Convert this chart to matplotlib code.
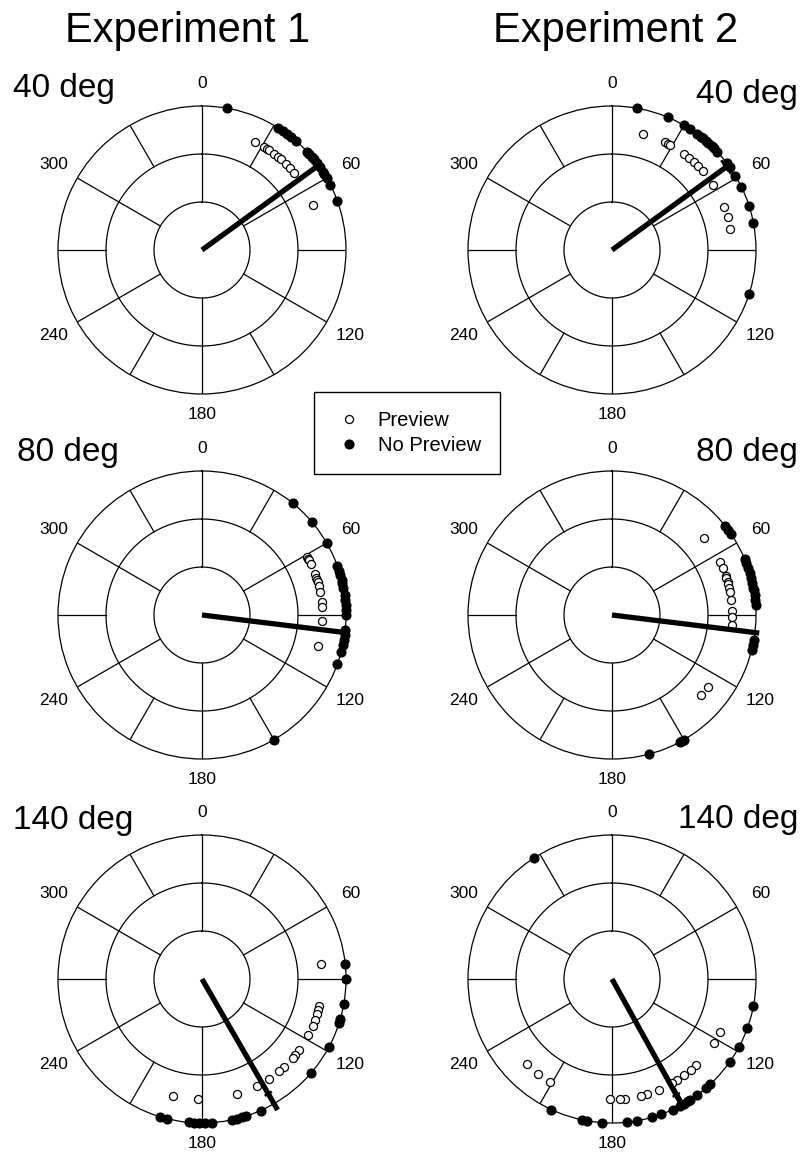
import numpy as np
import matplotlib
matplotlib.use("Agg")
import matplotlib.pyplot as plt
from matplotlib.lines import Line2D

plt.rcParams['font.family'] = ['Liberation Sans', 'DejaVu Sans']

# Response directions (deg, clockwise from 0 at top) for each condition
exp1_40_nopreview = [10, 32, 34, 36, 38, 41, 47, 48, 50, 51, 53, 55, 57, 58, 60, 63, 70]
exp1_40_preview = [26, 31, 33, 34, 37, 39, 41, 44, 47, 50, 68]
exp2_40_nopreview = [10, 23, 30, 33, 36, 38, 39, 41, 42, 44, 45, 47, 53, 55, 59, 64, 72, 79, 108]
exp2_40_preview = [15, 26, 28, 29, 37, 40, 43, 46, 49, 57, 69, 74, 80]

exp1_80_nopreview = [39, 50, 60, 70, 72, 74, 76, 77, 79, 82, 84, 86, 88, 90, 96, 98, 100, 102, 105, 110, 150]
exp1_80_preview = [61, 62, 63, 65, 70, 72, 73, 74, 76, 79, 84, 86, 93, 105]
exp2_80_nopreview = [52, 54, 56, 67, 69, 71, 73, 75, 77, 79, 80, 82, 84, 86, 100, 102, 104, 150, 151, 152, 165]
exp2_80_preview = [50, 64, 67, 71, 72, 74, 75, 77, 79, 83, 88, 91, 95, 127, 132]

exp1_140_nopreview = [84, 90, 100, 106, 108, 118, 131, 156, 162, 164, 166, 168, 176, 179, 181, 183, 185, 194, 197]
exp1_140_preview = [83, 103, 105, 107, 110, 113, 118, 126, 129, 131, 137, 140, 146, 153, 163, 182, 194]
exp2_140_nopreview = [327, 101, 110, 118, 125, 137, 139, 144, 147, 148, 150, 152, 155, 160, 164, 170, 174, 184, 190, 192, 205]
exp2_140_preview = [116, 122, 136, 139, 143, 147, 150, 157, 163, 166, 174, 176, 181, 211, 218, 225]

# Mean direction (deg) and drawn vector length per panel, rows = rotation, cols = experiment
mean_dir = [[54, 54], [97, 97], [150, 151]]
mean_len = [[1.02, 1.02], [1.02, 1.03], [1.05, 1.0]]
mean_tick = [[0.98, 0.98], [1.0, 1.0], [0.92, 0.92]]
tick_half = [[0.05, 0.05], [0.0, 0.0], [0.02, 0.02]]

row_labels = ["40 deg", "80 deg", "140 deg"]
col_titles = ["Experiment 1", "Experiment 2"]
angle_ticks = [0, 60, 120, 180, 240, 300]

panels = [
    [(exp1_40_nopreview, exp1_40_preview), (exp2_40_nopreview, exp2_40_preview)],
    [(exp1_80_nopreview, exp1_80_preview), (exp2_80_nopreview, exp2_80_preview)],
    [(exp1_140_nopreview, exp1_140_preview), (exp2_140_nopreview, exp2_140_preview)],
]

W, H = 803, 1153
fig = plt.figure(figsize=(W / 100, H / 100), dpi=100)

col_cx = [202, 612]
row_cy = [250, 615, 979]
R = 144
R_NOPRE = 1.0
R_PRE = 0.835
GRID_LW = 0.9


def draw_grid(ax):
    th = np.linspace(0, 2 * np.pi, 400)
    for r in (1 / 3, 2 / 3):
        ax.plot(th, np.full_like(th, r), color='black', lw=GRID_LW, zorder=1)
    for a in range(0, 360, 30):
        r0 = 1 / 3 if a % 60 == 0 else 2 / 3
        t = np.deg2rad(a)
        ax.plot([t, t], [r0, 1], color='black', lw=GRID_LW, zorder=1)
    for a in angle_ticks:
        rl = 1.155 if a in (0, 180) else 1.19
        if a == 180:
            rl = 1.14
        ax.text(np.deg2rad(a), rl, str(a), ha='center', va='center', fontsize=12.5)


for i in range(3):
    for j in range(2):
        cx, cy = col_cx[j], row_cy[i]
        ax = fig.add_axes([(cx - R) / W, 1 - (cy + R) / H, 2 * R / W, 2 * R / H],
                          projection='polar')
        ax.set_theta_zero_location('N')
        ax.set_theta_direction(-1)
        ax.set_ylim(0, 1)
        ax.grid(False)
        ax.set_xticks([])
        ax.set_yticks([])
        ax.spines['polar'].set_linewidth(GRID_LW)
        draw_grid(ax)

        nopre, pre = panels[i][j]
        ax.plot(np.deg2rad(pre), np.full(len(pre), R_PRE), linestyle='none', marker='o',
                markersize=5.8, markerfacecolor='white', markeredgecolor='black',
                markeredgewidth=0.9, clip_on=False, zorder=3)
        ax.plot(np.deg2rad(nopre), np.full(len(nopre), R_NOPRE), linestyle='none', marker='o',
                markersize=6.3, markerfacecolor='black', markeredgecolor='black',
                clip_on=False, zorder=3)

        # mean direction vector with a short cross tick
        md = np.deg2rad(mean_dir[i][j])
        ax.plot([md, md], [0, mean_len[i][j]], color='black', lw=3.8,
                solid_capstyle='butt', clip_on=False, zorder=4)
        half = tick_half[i][j]
        if half > 0:
            rt = mean_tick[i][j]
            dth = np.arctan2(half, rt)
            rr = np.hypot(rt, half)
            ax.plot([md - dth, md + dth], [rr, rr], color='black', lw=1.8,
                    clip_on=False, zorder=4)

# column titles
for j, t in enumerate(col_titles):
    fig.text([188, 616][j] / W, 1 - 42 / H, t, ha='center', va='baseline', fontsize=30)

# row labels
left_base = [97.5, 461.5, 829]
right_base = [103, 461.5, 828]
left_x = [13, 17, 13]
for i, lab in enumerate(row_labels):
    fig.text(left_x[i] / W, 1 - left_base[i] / H, lab, ha='left', va='baseline', fontsize=24)
    fig.text(798 / W, 1 - right_base[i] / H, lab, ha='right', va='baseline', fontsize=24)

handles = [
    Line2D([], [], linestyle='none', marker='o', markersize=5.8, markerfacecolor='white',
           markeredgecolor='black', markeredgewidth=0.9),
    Line2D([], [], linestyle='none', marker='o', markersize=6.3, markerfacecolor='black',
           markeredgecolor='black'),
]
leg = fig.legend(handles, ["Preview", "No Preview"], loc='center',
                 bbox_to_anchor=(407 / W, 1 - 433 / H), fontsize=14.5,
                 frameon=True, fancybox=False, edgecolor='black', framealpha=1,
                 borderpad=0.95, labelspacing=0.26, handlelength=1.6, handletextpad=0.6)
leg.get_frame().set_linewidth(1.0)

fig.savefig("out.png", dpi=100)
